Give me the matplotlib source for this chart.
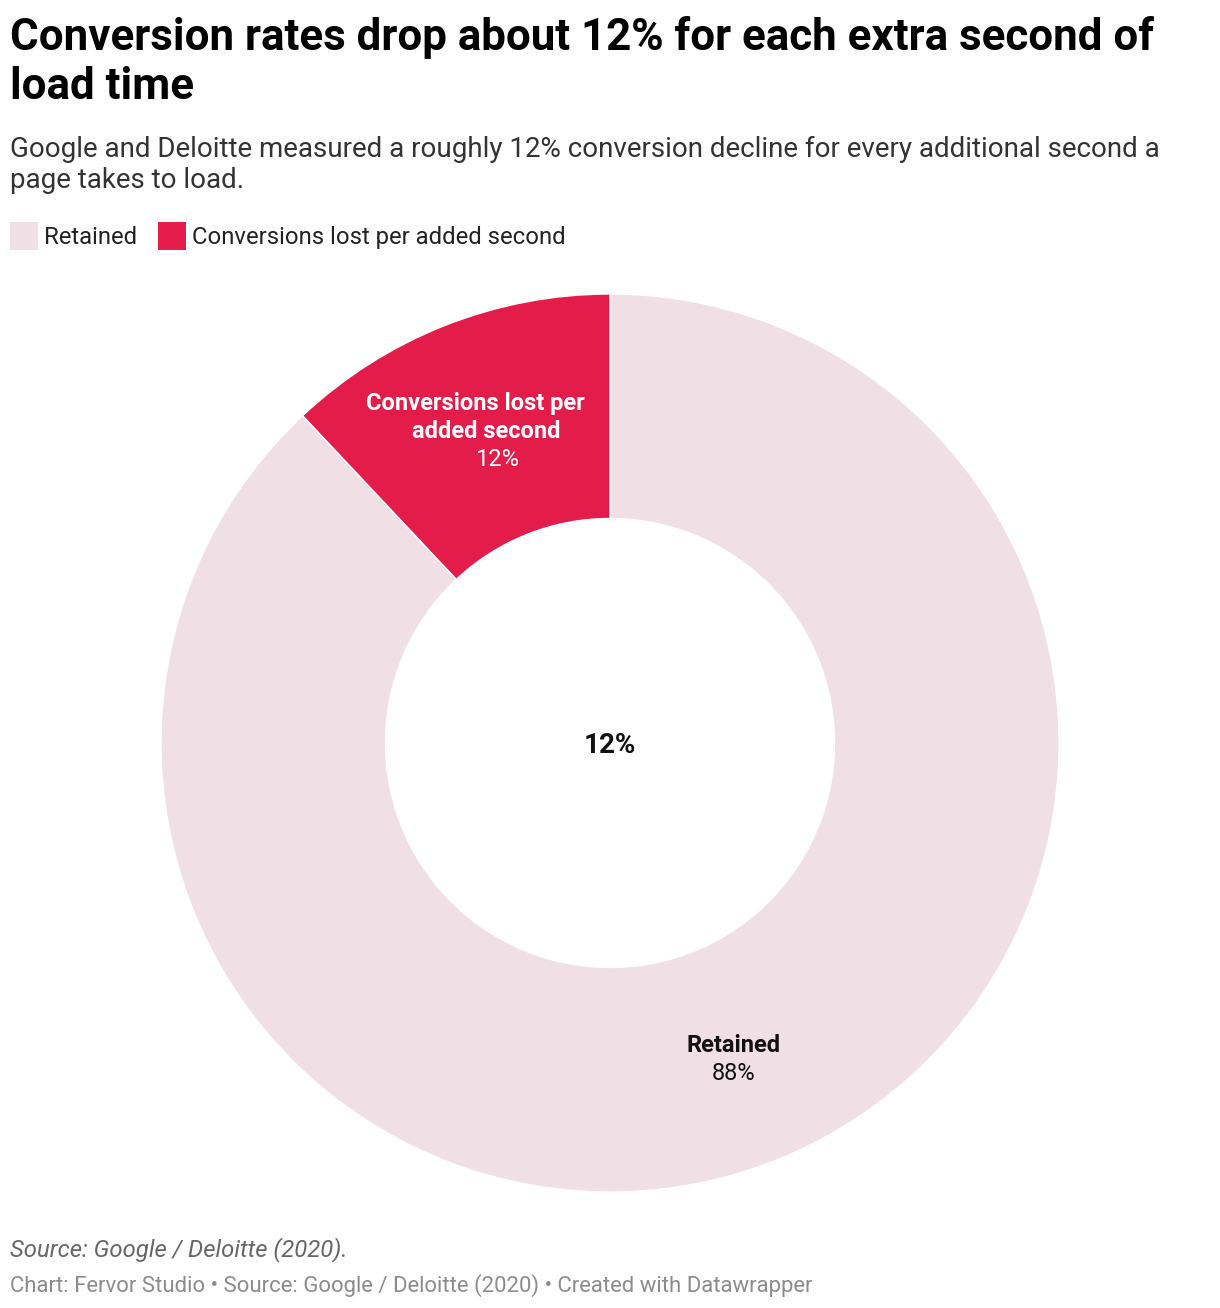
import matplotlib
matplotlib.use("Agg")
import matplotlib.pyplot as plt

plt.rcParams['font.family'] = ['Roboto', 'DejaVu Sans']

# data
categories = ["Retained", "Conversions lost per added second"]
lost_label_lines = ["Conversions lost per", "added second"]
values = [88, 12]
colors = ["#f0dfe4", "#e31c4a"]
center_label = "12%"

W, H = 1220, 1308
fig = plt.figure(figsize=(W / 100, H / 100), dpi=100)


def fx(px):
    return px / W


def fy(py):
    return 1 - py / H


# titles
fig.text(fx(10), fy(50), "Conversion rates drop about 12% for each extra second of",
         fontsize=31.6, fontweight="bold", va="baseline", ha="left", color="#000000")
fig.text(fx(10), fy(99), "load time",
         fontsize=31.6, fontweight="bold", va="baseline", ha="left", color="#000000")
fig.text(fx(10), fy(157), "Google and Deloitte measured a roughly 12% conversion decline for every additional second a",
         fontsize=20, va="baseline", ha="left", color="#333333")
fig.text(fx(10), fy(188), "page takes to load.",
         fontsize=20, va="baseline", ha="left", color="#333333")

# legend
lx = 10
for cat, col in zip(categories, colors):
    fig.patches.append(plt.Rectangle((fx(lx), fy(250)), fx(28), 28 / H, transform=fig.transFigure,
                                     facecolor=col, edgecolor="none"))
    t = fig.text(fx(lx + 34), fy(244), cat, fontsize=17.2, va="baseline", ha="left", color="#222222")
    fig.canvas.draw()
    bb = t.get_window_extent()
    lx = bb.x1 + 21

# donut
ax = fig.add_axes([fx(161), fy(1192), 898 / W, 898 / H])
wedges, _ = ax.pie(values, colors=colors, startangle=90, counterclock=False, radius=1,
                   wedgeprops=dict(width=0.5, edgecolor="white", linewidth=1))
ax.set_xlim(-1, 1)
ax.set_ylim(-1, 1)
ax.set_aspect("equal")
ax.axis("off")


def ax_xy(px, py):
    return ((px - 610) / 449, (743 - py) / 449)


# slice labels
x, y = ax_xy(475, 410)
ax.text(x, y, lost_label_lines[0], fontsize=17, fontweight="bold", color="white",
        ha="center", va="baseline")
x, y = ax_xy(486, 438)
ax.text(x, y, lost_label_lines[1], fontsize=17, fontweight="bold", color="white",
        ha="center", va="baseline")
x, y = ax_xy(497, 466)
ax.text(x, y, f"{values[1]}%", fontsize=17, color="white", ha="center", va="baseline")

x, y = ax_xy(734, 1052)
ax.text(x, y, categories[0], fontsize=17, fontweight="bold", color="#111111", ha="center", va="baseline")
x, y = ax_xy(734, 1080)
ax.text(x, y, f"{values[0]}%", fontsize=17, color="#111111", ha="center", va="baseline")

x, y = ax_xy(610, 753)
ax.text(x, y, center_label, fontsize=20, fontweight="bold", color="#111111", ha="center", va="baseline")

# footer
fig.text(fx(10), fy(1256), "Source: Google / Deloitte (2020).", fontsize=17.2, fontstyle="italic",
         va="baseline", ha="left", color="#666666")
fig.text(fx(10), fy(1292), "Chart: Fervor Studio \u2022 Source: Google / Deloitte (2020) \u2022 Created with Datawrapper",
         fontsize=15.9, va="baseline", ha="left", color="#8c8c8c")

fig.savefig("out.png", dpi=100, facecolor="white")
